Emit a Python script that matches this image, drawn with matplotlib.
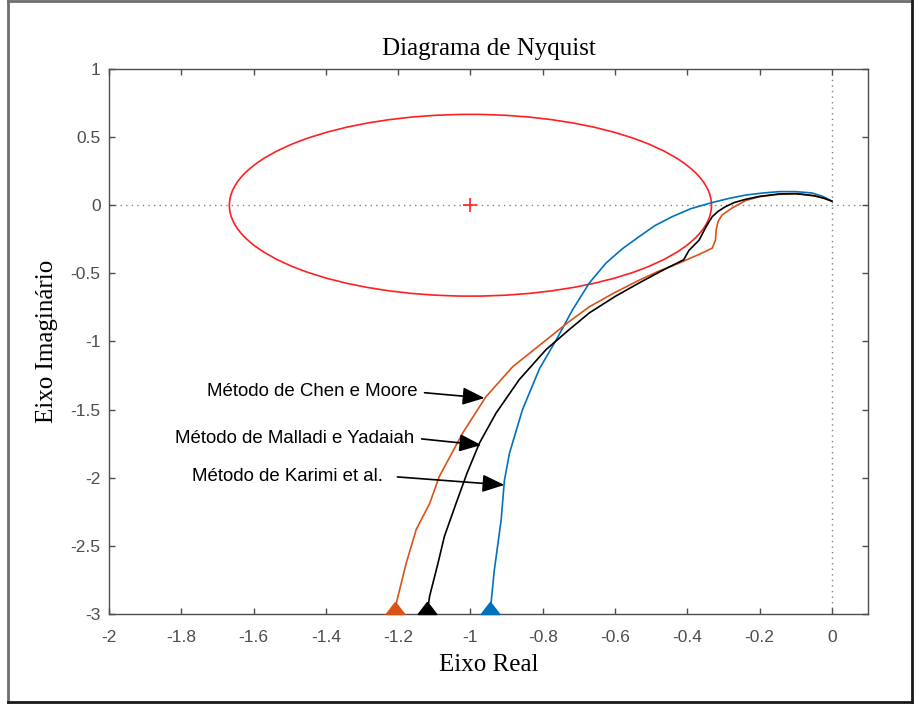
import matplotlib
matplotlib.use("Agg")
import matplotlib.pyplot as plt
from matplotlib.patches import Ellipse, FancyArrowPatch
from matplotlib.lines import Line2D

# Nyquist curves (real, imaginary) for the three reduced models
chen_re = [0.0, -0.02, -0.04, -0.09, -0.146, -0.20, -0.238, -0.276, -0.304, -0.315, -0.32,
           -0.322, -0.331, -0.367, -0.423, -0.48, -0.533, -0.60, -0.671, -0.73, -0.791,
           -0.883, -0.957, -1.021, -1.086, -1.113, -1.15, -1.178, -1.205, -1.21]
chen_im = [0.03, 0.05, 0.065, 0.085, 0.08, 0.063, 0.035, -0.02, -0.072, -0.12, -0.18,
           -0.255, -0.315, -0.36, -0.425, -0.485, -0.55, -0.64, -0.745, -0.86, -0.99,
           -1.185, -1.405, -1.67, -1.99, -2.19, -2.38, -2.63, -2.92, -3.0]

malladi_re = [0.0, -0.02, -0.05, -0.10, -0.146, -0.20, -0.238, -0.27, -0.294, -0.315,
              -0.331, -0.348, -0.367, -0.395, -0.41, -0.47, -0.533, -0.60, -0.671, -0.73,
              -0.791, -0.865, -0.929, -0.975, -1.01, -1.04, -1.072, -1.09, -1.113, -1.12]
malladi_im = [0.03, 0.05, 0.07, 0.085, 0.083, 0.065, 0.044, 0.02, -0.01, -0.045,
              -0.084, -0.157, -0.255, -0.33, -0.40, -0.48, -0.57, -0.67, -0.79, -0.92,
              -1.06, -1.28, -1.525, -1.745, -1.97, -2.19, -2.43, -2.63, -2.87, -3.0]

karimi_re = [0.0, -0.025, -0.055, -0.10, -0.146, -0.19, -0.238, -0.285, -0.331, -0.39,
             -0.442, -0.49, -0.533, -0.58, -0.625, -0.671, -0.718, -0.763, -0.809,
             -0.856, -0.892, -0.906, -0.915, -0.934, -0.943, -0.947]
karimi_im = [0.03, 0.065, 0.09, 0.10, 0.10, 0.09, 0.075, 0.05, 0.02, -0.025,
             -0.084, -0.15, -0.23, -0.32, -0.425, -0.57, -0.77, -0.99, -1.20,
             -1.50, -1.82, -2.02, -2.31, -2.68, -2.92, -3.0]

# Reference circle
circle_center = (-1.0, 0.0)
circle_radius = 0.667

# Labels and arrows: (text, tail, head)
labels = ["Método de Chen e Moore", "Método de Malladi e Yadaiah", "Método de Karimi et al."]
arrow_tails = [(-1.127, -1.376), (-1.135, -1.715), (-1.202, -1.994)]
arrow_heads = [(-0.961, -1.415), (-0.970, -1.760), (-0.906, -2.053)]
text_pos = [(-1.146, -1.37), (-1.155, -1.71), (-1.243, -1.99)]

xticks = [-2, -1.8, -1.6, -1.4, -1.2, -1, -0.8, -0.6, -0.4, -0.2, 0]
xticklabels = ["-2", "-1.8", "-1.6", "-1.4", "-1.2", "-1", "-0.8", "-0.6", "-0.4", "-0.2", "0"]
yticks = [-3, -2.5, -2, -1.5, -1, -0.5, 0, 0.5, 1]
yticklabels = ["-3", "-2.5", "-2", "-1.5", "-1", "-0.5", "0", "0.5", "1"]

BLUE = "#0072BD"
ORANGE = "#D95319"
AXC = "#4d4d4d"

fig = plt.figure(figsize=(9.2, 7.04), dpi=100)
ax = fig.add_axes([0.11848, 0.12784, 0.825, 0.77415])

ax.set_xlim(-2, 0.1)
ax.set_ylim(-3, 1)

# dotted axes through origin
ax.axhline(0, color="#808080", lw=1.0, ls=(0, (1, 3)), zorder=1)
ax.axvline(0, color="#808080", lw=1.0, ls=(0, (1, 3)), zorder=1)

# circle and critical point
ax.add_patch(Ellipse(circle_center, 2 * circle_radius, 2 * circle_radius,
                     fill=False, edgecolor="#ff2020", lw=1.2, zorder=2))
ax.plot([circle_center[0]], [circle_center[1]], marker="+", color="#ff2020",
        ms=10, mew=1.2, zorder=3)

# curves
ax.plot(karimi_re, karimi_im, color=BLUE, lw=1.2, zorder=3)
ax.plot(chen_re, chen_im, color=ORANGE, lw=1.2, zorder=3)
ax.plot(malladi_re, malladi_im, color="black", lw=1.2, zorder=4)

# direction markers at the curve ends (base resting on the point)
tri = [(0, 1.3), (-1, 0), (1, 0), (0, 1.3)]
for re, im, c in [(chen_re, chen_im, ORANGE), (malladi_re, malladi_im, "black"),
                  (karimi_re, karimi_im, BLUE)]:
    ax.plot([re[-1]], [im[-1]], marker=tri, color=c, ms=17.5, mec=c,
            clip_on=False, zorder=5)

# annotations
for txt, tail, head, tp in zip(labels, arrow_tails, arrow_heads, text_pos):
    ax.text(tp[0], tp[1], txt, ha="right", va="center", fontsize=13.4,
            family="Liberation Sans", color="black", zorder=6)
    arr = FancyArrowPatch(tail, head, arrowstyle="-|>,head_length=0.75,head_width=0.3",
                          mutation_scale=18, color="black", lw=1.2, zorder=6,
                          shrinkA=0, shrinkB=0)
    ax.add_patch(arr)

ax.set_xticks(xticks)
ax.set_xticklabels(xticklabels)
ax.set_yticks(yticks)
ax.set_yticklabels(yticklabels)
ax.tick_params(direction="in", length=4.5, width=1.0, color=AXC, labelcolor=AXC,
               labelsize=12.5, top=True, right=True, pad=6)
ax.tick_params(axis="x", pad=11.5)
for lab in ax.get_xticklabels() + ax.get_yticklabels():
    lab.set_family("Liberation Sans")
for sp in ax.spines.values():
    sp.set_color(AXC)
    sp.set_linewidth(1.0)

ax.set_title("Diagrama de Nyquist", family="Liberation Serif", fontsize=18,
             color="black", pad=10)
ax.set_xlabel("Eixo Real", family="Liberation Serif", fontsize=18, color="black")
ax.set_ylabel("Eixo Imaginário", family="Liberation Serif", fontsize=18, color="black")
ax.xaxis.set_label_coords(0.5, -0.073)
ax.yaxis.set_label_coords(-0.067, 0.5)

# figure frame
fig.add_artist(Line2D([0.0087, 0.0087], [0.0028, 0.9986], transform=fig.transFigure,
                      color="#6e6e6e", lw=2))
fig.add_artist(Line2D([0.0087, 0.9913], [0.9986, 0.9986], transform=fig.transFigure,
                      color="#6e6e6e", lw=2))
fig.add_artist(Line2D([0.0087, 0.9913], [0.0028, 0.0028], transform=fig.transFigure,
                      color="#1a1a1a", lw=2))
fig.add_artist(Line2D([0.9913, 0.9913], [0.0028, 0.9986], transform=fig.transFigure,
                      color="#1a1a1a", lw=2))

fig.savefig("out.png", dpi=100)
